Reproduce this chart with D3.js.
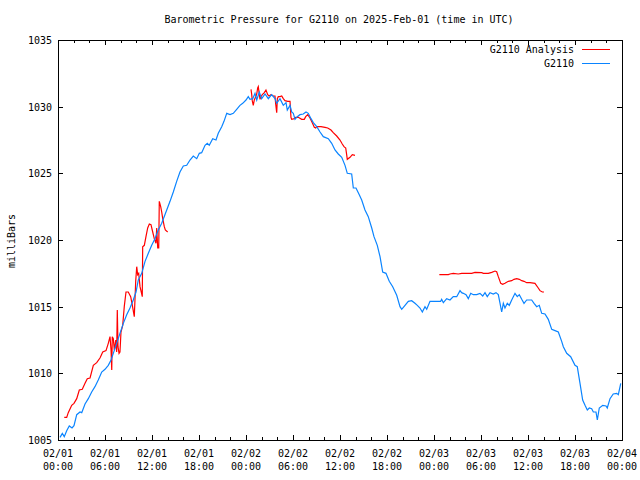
<!DOCTYPE html>
<html>
<head>
<meta charset="utf-8">
<script src="https://cdn.jsdelivr.net/npm/d3@7"></script>
<style>
  html, body { margin: 0; padding: 0; background: #fff; }
  svg text { font-family: "DejaVu Sans Mono", "Liberation Mono", monospace; font-size: 10px; fill: #000; }
</style>
</head>
<body>
<svg id="chart" width="640" height="480"></svg>
<script>
// ---------------- data (hours since 2025-02-01 00:00 UTC, millibars) ----------------
const titleText = "Barometric Pressure for G2110 on 2025-Feb-01 (time in UTC)";
const yLabelText = "milliBars";
const seriesNames = ["G2110 Analysis", "G2110"];
const yTicks = [1005, 1010, 1015, 1020, 1025, 1030, 1035];

const obsHours = [0.26,0.55,0.80,1.11,1.44,1.79,2.04,2.39,2.81,3.03,3.45,3.87,4.30,4.72,5.14,5.58,6.00,6.42,6.77,7.06,
  7.49,7.91,8.34,8.77,9.19,9.61,9.96,10.25,10.69,11.11,11.53,11.96,12.38,12.80,13.24,13.88,14.30,14.72,15.15,15.57,
  16.00,16.43,16.85,17.27,17.71,18.04,18.34,18.77,19.06,19.31,19.75,20.17,20.46,20.90,21.19,21.54,21.96,22.38,22.81,23.23,
  23.58,24.00,24.29,24.51,24.86,25.15,25.37,25.70,26.00,26.43,26.85,27.28,27.70,27.92,28.34,28.76,29.11,29.27,29.62,29.83,
  30.04,30.26,30.55,30.89,31.31,31.66,31.95,32.30,32.59,33.03,33.45,33.87,34.51,34.94,35.36,35.78,36.22,36.64,36.93,37.49,
  37.70,38.04,38.46,38.77,39.19,39.61,40.05,40.34,40.76,41.11,41.45,41.87,42.29,42.73,43.24,43.66,43.88,44.30,44.72,45.15,
  45.57,45.87,46.21,46.51,46.85,47.07,47.49,47.91,48.55,48.85,48.98,49.19,49.62,50.04,50.46,50.90,51.32,51.53,51.74,52.09,
  52.38,52.69,53.02,53.45,53.87,54.22,54.51,54.80,55.15,55.57,55.91,56.21,56.43,56.64,56.85,57.06,57.36,57.61,57.92,58.34,
  58.63,58.89,59.20,59.49,59.83,60.47,60.77,61.11,61.44,61.75,62.17,62.59,63.03,63.45,63.87,64.30,64.51,64.94,65.45,66.00,
  66.29,66.64,66.98,67.28,67.57,67.83,68.13,68.34,68.68,68.85,69.10,69.54,69.96,70.12,70.47,70.88,71.32,71.53,71.84];
const obsValues = [1005.2,1005.5,1005.25,1005.7,1006.05,1005.9,1006.07,1006.9,1007.1,1007.05,1007.7,1008.1,1008.6,1009.0,1009.5,1010.1,1010.3,1010.6,1011.0,1011.5,
  1012.25,1013.0,1013.75,1014.4,1014.9,1015.5,1016.1,1017.0,1017.5,1018.4,1019.0,1019.6,1020.1,1020.75,1021.25,1022.25,1022.9,1023.6,1024.4,1025.1,
  1025.55,1025.6,1026.0,1026.3,1026.1,1026.5,1026.55,1027.1,1027.25,1027.1,1027.6,1027.5,1028.0,1028.5,1028.9,1029.5,1029.4,1029.5,1029.8,1030.1,
  1030.25,1030.5,1030.75,1030.55,1030.6,1031.0,1030.5,1031.1,1030.6,1030.95,1030.6,1030.9,1030.6,1030.25,1030.6,1030.1,1030.3,1029.75,1030.1,1029.6,
  1029.5,1029.05,1029.25,1029.4,1029.45,1029.6,1029.5,1029.1,1028.8,1028.5,1028.1,1027.75,1027.6,1027.25,1026.75,1026.45,1026.2,1025.6,1025.0,1024.95,
  1023.9,1023.9,1023.4,1023.0,1022.25,1021.75,1020.9,1020.25,1019.6,1018.75,1017.6,1017.5,1016.9,1016.5,1015.85,1015.0,1014.8,1015.1,1015.4,1015.45,
  1015.25,1015.1,1014.9,1014.6,1015.0,1014.8,1015.4,1015.4,1015.4,1015.4,1015.55,1015.3,1015.6,1015.5,1015.75,1015.75,1016.2,1016.05,1016.0,1015.9,
  1015.6,1016.0,1015.9,1015.9,1016.0,1015.8,1016.05,1015.75,1016.05,1015.95,1016.05,1015.9,1015.25,1014.6,1015.25,1014.9,1015.25,1015.1,1015.5,1016.0,
  1015.75,1015.9,1015.55,1015.25,1015.5,1015.5,1015.25,1015.0,1015.1,1014.5,1014.45,1014.05,1013.3,1013.2,1013.1,1012.4,1012.0,1011.5,1011.25,1010.6,
  1010.5,1009.25,1008.0,1007.6,1007.25,1007.4,1007.35,1007.1,1007.1,1006.5,1007.4,1007.6,1007.55,1007.4,1008.1,1008.45,1008.5,1008.4,1009.25];

const anaHours1 = [0.80,1.11,1.31,1.75,2.04,2.39,2.72,3.10,3.45,3.74,4.09,4.51,4.94,5.36,5.71,6.13,6.42,6.64,6.77,6.86,
  6.93,7.06,7.19,7.37,7.49,7.57,7.66,7.79,7.91,8.04,8.26,8.46,8.68,8.97,9.28,9.49,9.74,9.92,10.05,10.17,
  10.30,10.47,10.63,10.76,10.81,11.02,11.23,11.45,11.66,11.87,12.09,12.29,12.51,12.60,12.73,12.86,12.93,13.11,13.24,13.37,
  13.57,13.70,14.00];
const anaValues1 = [1006.7,1006.7,1007.05,1007.6,1007.75,1008.1,1008.75,1008.8,1009.25,1009.6,1009.65,1010.6,1010.8,1011.15,1011.6,1011.7,1012.25,1012.75,1011.75,1010.25,
  1012.75,1012.6,1011.75,1012.5,1011.6,1014.75,1012.0,1011.5,1011.6,1013.1,1013.6,1015.0,1016.1,1016.1,1015.75,1015.1,1014.25,1016.9,1018.0,1017.4,
  1017.5,1016.5,1016.1,1015.75,1019.5,1019.6,1020.25,1020.9,1021.2,1021.15,1020.6,1020.1,1019.75,1020.9,1019.4,1019.4,1022.9,1022.5,1022.1,1021.6,
  1021.0,1020.75,1020.6];

const anaHours2 = [24.64,24.73,24.80,24.93,25.06,25.24,25.37,25.49,25.57,25.70,25.79,25.91,26.08,26.34,26.55,26.77,26.94,27.19,27.48,27.70,
  27.79,27.92,28.00,28.12,28.34,28.56,28.76,28.98,29.32,29.62,29.74,29.83,30.17,30.34,30.68,31.11,31.44,31.62,31.88,32.17,
  32.46,32.72,32.90,33.03,33.57,34.08,34.43,34.85,35.14,35.58,36.00,36.29,36.51,36.73,36.85,36.93,37.28,37.57,37.91];
const anaValues2 = [1031.3,1030.9,1030.45,1030.1,1030.5,1030.75,1030.95,1031.4,1031.5,1030.9,1030.55,1030.75,1030.9,1031.05,1031.25,1030.9,1030.8,1030.9,1030.8,1030.8,
  1030.2,1029.55,1030.6,1030.75,1030.75,1030.8,1030.6,1030.45,1030.4,1030.4,1029.2,1029.05,1029.1,1029.2,1029.2,1029.05,1029.05,1029.25,1029.4,1029.15,
  1028.8,1028.45,1028.4,1028.5,1028.5,1028.45,1028.4,1028.25,1028.05,1027.8,1027.5,1027.2,1027.0,1026.9,1026.4,1026.05,1026.2,1026.4,1026.35];

const anaHours3 = [48.68,49.83,50.04,50.46,51.10,51.54,52.25,52.81,53.23,54.09,54.30,54.93,55.37,55.79,56.00,56.21,56.52,56.77,57.06,57.49,
  57.92,58.21,58.56,58.89,59.20,59.49,59.83,60.26,60.89,61.31,61.53,61.83,62.04];
const anaValues3 = [1017.4,1017.4,1017.45,1017.5,1017.45,1017.5,1017.5,1017.5,1017.57,1017.55,1017.5,1017.5,1017.57,1017.67,1017.62,1017.25,1016.75,1016.67,1016.75,1016.9,
  1016.95,1017.05,1017.1,1017.05,1016.95,1016.9,1016.8,1016.8,1016.75,1016.4,1016.2,1016.1,1016.1];

// ---------------- chart ----------------
const colors = { analysis: "#ff0000", obs: "#0a84ff" };
const margin = { left: 58, top: 40, right: 18, bottom: 40 };
const W = 640, H = 480;
const iw = W - margin.left - margin.right;   // 564
const ih = H - margin.top - margin.bottom;   // 400

const t0 = Date.UTC(2025, 1, 1, 0, 0);
const toDate = h => new Date(t0 + h * 3600e3);

const svg = d3.select("#chart");
const x = d3.scaleUtc().domain([toDate(0), toDate(72)]).range([margin.left, margin.left + iw]);
const y = d3.scaleLinear().domain([1005, 1035]).range([margin.top + ih, margin.top]);

// title
svg.append("text").attr("x", 339).attr("y", 23).attr("text-anchor", "middle").text(titleText);

// y label
svg.append("text").attr("transform", "translate(15,241) rotate(-90)")
  .attr("text-anchor", "middle").text(yLabelText);

// axes with inward ticks
const majorX = x.ticks(d3.utcHour.every(6));
const minorX = x.ticks(d3.utcHour.every(2)).filter(d => d.getUTCHours() % 6 !== 0);
const fmtDay = d3.utcFormat("%m/%d"), fmtTime = d3.utcFormat("%H:%M");

const axBottom = d3.axisBottom(x).tickValues(majorX).tickSize(-5).tickFormat("");
const axTop = d3.axisTop(x).tickValues(majorX).tickSize(-5).tickFormat("");
const axBottomMinor = d3.axisBottom(x).tickValues(minorX).tickSize(-3).tickFormat("");
const axTopMinor = d3.axisTop(x).tickValues(minorX).tickSize(-3).tickFormat("");
const axLeft = d3.axisLeft(y).tickValues(yTicks).tickSize(-5).tickFormat("");
const axRight = d3.axisRight(y).tickValues(yTicks).tickSize(-5).tickFormat("");

function styleAxis(g) {
  g.select(".domain").remove();
  g.selectAll("line").attr("stroke", "#000").attr("shape-rendering", "crispEdges");
}
svg.append("g").attr("transform", `translate(0,${margin.top + ih})`).call(axBottom).call(styleAxis);
svg.append("g").attr("transform", `translate(0,${margin.top + ih})`).call(axBottomMinor).call(styleAxis);
svg.append("g").attr("transform", `translate(0,${margin.top})`).call(axTop).call(styleAxis);
svg.append("g").attr("transform", `translate(0,${margin.top})`).call(axTopMinor).call(styleAxis);
svg.append("g").attr("transform", `translate(${margin.left},0)`).call(axLeft).call(styleAxis);
svg.append("g").attr("transform", `translate(${margin.left + iw},0)`).call(axRight).call(styleAxis);

// tick labels
const xl = svg.append("g");
majorX.forEach(d => {
  xl.append("text").attr("x", x(d)).attr("y", 457).attr("text-anchor", "middle").text(fmtDay(d));
  xl.append("text").attr("x", x(d)).attr("y", 470).attr("text-anchor", "middle").text(fmtTime(d));
});
svg.append("g").selectAll("text").data(yTicks).join("text")
  .attr("x", 52).attr("y", d => y(d) + 4).attr("text-anchor", "end").text(d => d);

// frame
svg.append("rect").attr("x", margin.left + 0.5).attr("y", margin.top + 0.5)
  .attr("width", iw).attr("height", ih).attr("fill", "none").attr("stroke", "#000")
  .attr("shape-rendering", "crispEdges");

// lines
const line = d3.line().x(d => x(toDate(d[0]))).y(d => y(d[1]));
const plot = svg.append("g");
function drawSeries(hours, values, color) {
  plot.append("path").datum(d3.zip(hours, values))
    .attr("d", line).attr("fill", "none").attr("stroke", color).attr("stroke-width", 1.2)
    .attr("stroke-linejoin", "miter");
}
drawSeries(anaHours1, anaValues1, colors.analysis);
drawSeries(anaHours2, anaValues2, colors.analysis);
drawSeries(anaHours3, anaValues3, colors.analysis);
drawSeries(obsHours, obsValues, colors.obs);

// legend
const legend = svg.append("g");
[[seriesNames[0], colors.analysis, 49], [seriesNames[1], colors.obs, 63]].forEach(([name, c, ly]) => {
  legend.append("text").attr("x", 574).attr("y", ly + 4).attr("text-anchor", "end").text(name);
  legend.append("line").attr("x1", 582).attr("x2", 610).attr("y1", ly + 0.5).attr("y2", ly + 0.5)
    .attr("stroke", c).attr("stroke-width", 1).attr("shape-rendering", "crispEdges");
});
</script>
</body>
</html>
